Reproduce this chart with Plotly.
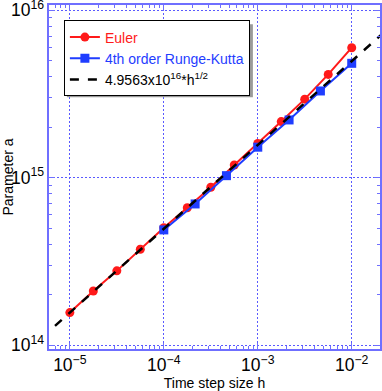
import plotly.graph_objects as go

# step sizes and fitted parameter values
h_euler = [1e-5, 1.778e-5, 3.162e-5, 5.623e-5, 1e-4, 1.778e-4, 3.162e-4,
           5.623e-4, 1e-3, 1.778e-3, 3.162e-3, 5.623e-3, 1e-2]
a_euler = [1.567e14, 2.11e14, 2.78e14, 3.74e14, 5.03e14, 6.62e14, 8.77e14,
           1.19e15, 1.60e15, 2.16e15, 2.94e15, 4.13e15, 5.96e15]

h_rk4 = [1e-4, 2.154e-4, 4.642e-4, 1e-3, 2.154e-3, 4.642e-3, 1e-2]
a_rk4 = [4.88e14, 6.97e14, 1.028e15, 1.52e15, 2.21e15, 3.29e15, 4.81e15]

# reference line 4.9563e16 * h^0.5 at its two ends
h_fit = [5e-6, 2.5e-2]
a_fit = [1.1083e14, 7.8365e15]

_RED = "#ff1a1a"
_BLUE = "#1f3dff"
_AXIS = "#6f6fff"
_GRID = "#5a5aff"
_FONT = "Liberation Sans, Arial, sans-serif"

fig = go.Figure()
fig.add_trace(go.Scatter(
    x=h_euler, y=a_euler, mode="lines+markers",
    name=f"<span style='color:{_RED}'>Euler</span>",
    line=dict(color=_RED, width=2),
    marker=dict(symbol="circle", size=9, color=_RED),
))
fig.add_trace(go.Scatter(
    x=h_rk4, y=a_rk4, mode="lines+markers",
    name=f"<span style='color:{_BLUE}'>4th order Runge-Kutta</span>",
    line=dict(color=_BLUE, width=2),
    marker=dict(symbol="square", size=9, color=_BLUE),
))
fig.add_trace(go.Scatter(
    x=h_fit, y=a_fit, mode="lines",
    name="4.9563x10<sup>16</sup>*h<sup>1/2</sup>",
    line=dict(color="black", width=2.5, dash="dash"),
))

axis_common = dict(
    type="log", automargin=False, ticklabeloverflow="allow",
    showline=True, linecolor=_AXIS, linewidth=2, mirror="ticks",
    ticks="inside", ticklen=6, tickcolor=_AXIS, tickwidth=1,
    minor=dict(ticks="inside", ticklen=3, tickcolor=_AXIS, dtick="D1", showgrid=False),
    showgrid=True, gridcolor=_GRID, griddash="2px,2px", gridwidth=1.3,
    zeroline=False,
    dtick=1, exponentformat="power",
    tickfont=dict(size=14, color="black", family=_FONT),
    title_font=dict(size=14, color="black", family=_FONT),
)

fig.update_xaxes(range=[-5.222, -1.699], title=dict(text="Time step size h", standoff=4), **axis_common)
fig.update_yaxes(range=[13.978, 16.03], title=dict(text="Parameter a", standoff=4), **axis_common)

# grey drop shadow behind the legend box
fig.add_shape(
    type="rect", xref="paper", yref="paper",
    x0=0.054, x1=0.616, y0=0.732, y1=0.944,
    fillcolor="#9a9a9a", line_width=0, layer="above",
)

fig.update_layout(
    width=382, height=391,
    margin=dict(l=49, r=2, t=5, b=42),
    paper_bgcolor="white", plot_bgcolor="white",
    font=dict(family=_FONT, size=14, color="black"),
    showlegend=True,
    legend=dict(
        x=0.045, y=0.955, xanchor="left", yanchor="top",
        bgcolor="white", bordercolor="black", borderwidth=1,
        font=dict(size=14, family=_FONT),
        tracegroupgap=0,
    ),
)

# drop the default page margin so the figure sits at the window's corner
fig.write_html(
    "out.html",
    config={"displayModeBar": False},
    post_script="document.body.style.margin='0';",
)
